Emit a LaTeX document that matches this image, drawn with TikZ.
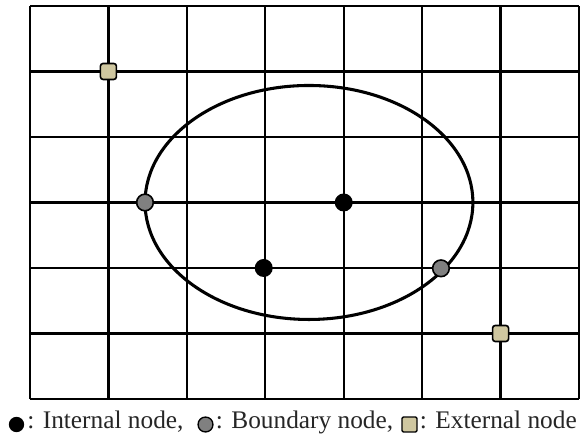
\documentclass[tikz,border=0pt]{standalone}
\usepackage{fontspec}
\setmainfont{Liberation Serif}
\usepackage{tikz}
\usetikzlibrary{
  positioning
}
\definecolor{boundaryFill}{RGB}{128,128,128}
\definecolor{externalFill}{RGB}{207,199,160}
\colorlet{ink}{black}
\tikzset{
  gridline/.style={draw=ink, line width=1.7pt},
  curve/.style={draw=ink, line width=2.3pt},
  internal/.style={
    circle,
    fill=ink,
    inner sep=0pt,
    minimum size=13.5pt
  },
  boundary/.style={
    circle,
    draw=ink,
    fill=boundaryFill,
    line width=1.2pt,
    inner sep=0pt,
    minimum size=12.5pt
  },
  external/.style={
    rectangle,
    draw=ink,
    fill=externalFill,
    rounded corners=2pt,
    line width=1.2pt,
    inner sep=0pt,
    minimum size=12pt
  },
  legend/.style={
    font=\fontsize{19}{22}\selectfont,
    inner sep=0pt,
    text height=0.75em,
    text depth=0.2em,
    text=black!85
  }
}

\begin{document}
\begin{tikzpicture}[x=0.75pt,y=0.75pt]
  \useasboundingbox (0,0) rectangle (580,439);

  % mesh in cell units
  \begin{scope}[shift={(30,40)}, x=58.82pt, y=49.13pt]
    \foreach \i in {0,...,7}{
      \draw[gridline] (\i,0) -- (\i,6);
    }
    \foreach \j in {0,...,6}{
      \draw[gridline] (0,\j) -- (7,\j);
    }
    \draw[curve] (3.557,3) ellipse [x radius=2.09, y radius=1.786];

    \node[internal] (in1) at (4,3) {};
    \node[internal] (in2) at (2.98,2) {};
    \node[boundary] (bd1) at (1.466,3) {};
    \node[boundary] (bd2) at (5.24,1.995) {};
    \node[external] (ex1) at (1,5) {};
    \node[external] (ex2) at (6,1) {};
  \end{scope}

  % legend
  \node[internal, minimum size=11.5pt] (keyin) at (16.5,14.5) {};
  \node[legend, right=2pt of keyin] (keyintext) {: Internal node,};
  \node[boundary, minimum size=11.2pt, line width=1pt] (keybd) at (205.5,14.5) {};
  \node[legend, right=1.5pt of keybd] (keybdtext) {: Boundary node,};
  \node[external, minimum size=11.2pt, line width=1pt, rounded corners=1pt] (keyex) at (409.5,14.5) {};
  \node[legend, right=1.5pt of keyex] (keyextext) {: External node};
\end{tikzpicture}
\end{document}
